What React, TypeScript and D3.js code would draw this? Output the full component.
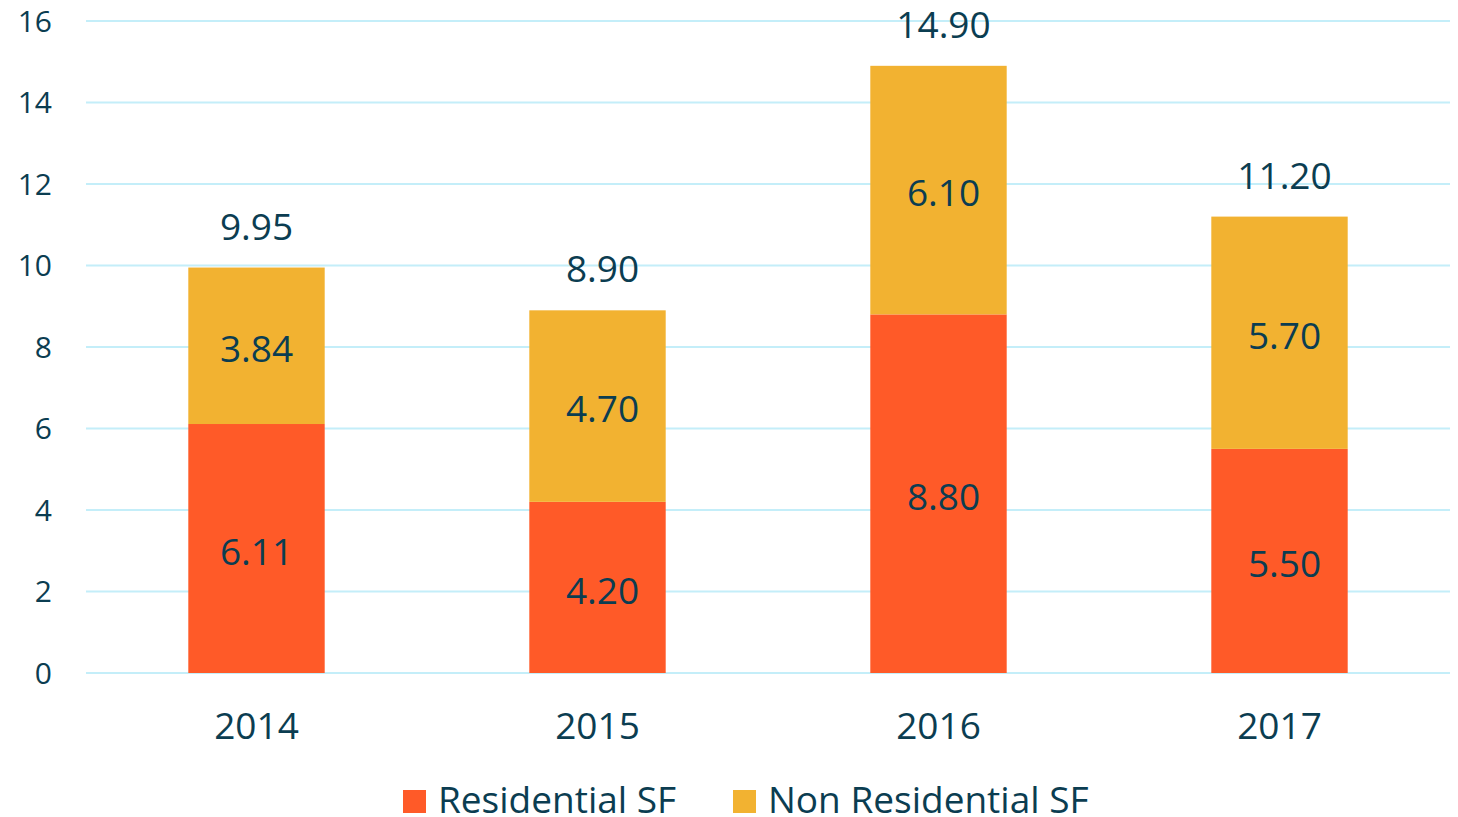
import React from "react";
import * as d3 from "d3";

const years = ["2014", "2015", "2016", "2017"];
const residential = [6.11, 4.2, 8.8, 5.5];
const nonResidential = [3.84, 4.7, 6.1, 5.7];
const totals = [9.95, 8.9, 14.9, 11.2];
const yTicks = [0, 2, 4, 6, 8, 10, 12, 14, 16];
const seriesNames = ["Residential SF", "Non Residential SF"];
const seriesColors = ["#FF5A28", "#F2B231"];

const W = 1458;
const H = 817;
const textColor = "#0B3D51";
const font = "'Open Sans', sans-serif";

export default function App() {
  const x = d3.scaleBand<string>().domain(years).range([86, 1450]).paddingInner(0.6).paddingOuter(0.3);
  const y = d3.scaleLinear().domain([0, 16]).range([673, 21]);
  const data = years.map((yr, i) => ({ year: yr, res: residential[i], non: nonResidential[i], total: totals[i] }));
  const stack = d3.stack<any>().keys(["res", "non"])(data);
  const lblDx = (i: number) => (i === 0 ? 0 : 5);

  const legendItems = [
    { x: 403, tx: 438 },
    { x: 733, tx: 768 },
  ];

  return (
    <svg width={W} height={H} style={{ position: "absolute", left: 0, top: 0 }} fontFamily={font}>
      <rect width={W} height={H} fill="#fff" />
      {yTicks.map((t) => (
        <g key={t}>
          <line x1={86} x2={1450} y1={y(t)} y2={y(t)} stroke="#C4EEF9" strokeWidth={2} />
          <text x={52} y={y(t)} dy="0.35em" textAnchor="end" fontSize={30} fill={textColor}>
            {t}
          </text>
        </g>
      ))}
      {stack.map((s, si) =>
        s.map((d, i) => {
          const yr = years[i];
          const top = y(d[1]);
          const bot = y(d[0]);
          const v = si === 0 ? residential[i] : nonResidential[i];
          return (
            <g key={si + "-" + i}>
              <rect x={x(yr)} y={top} width={x.bandwidth()} height={bot - top} fill={seriesColors[si]} />
              <text
                x={(x(yr) as number) + x.bandwidth() / 2 + lblDx(i)}
                y={(top + bot) / 2 + 3}
                dy="0.36em"
                textAnchor="middle"
                fontSize={37}
                fill={textColor}
              >
                {v.toFixed(2)}
              </text>
            </g>
          );
        })
      )}
      {years.map((yr, i) => (
        <text
          key={"t" + yr}
          x={(x(yr) as number) + x.bandwidth() / 2 + lblDx(i)}
          y={y(totals[i]) - 28}
          textAnchor="middle"
          fontSize={37}
          fill={textColor}
        >
          {totals[i].toFixed(2)}
        </text>
      ))}
      {years.map((yr) => (
        <text
          key={"x" + yr}
          x={(x(yr) as number) + x.bandwidth() / 2}
          y={739}
          textAnchor="middle"
          fontSize={37}
          fill={textColor}
        >
          {yr}
        </text>
      ))}
      {seriesNames.map((n, i) => (
        <g key={n}>
          <rect x={legendItems[i].x} y={790} width={23} height={23} fill={seriesColors[i]} />
          <text x={legendItems[i].tx} y={813} fontSize={37} fill={textColor}>
            {n}
          </text>
        </g>
      ))}
    </svg>
  );
}
